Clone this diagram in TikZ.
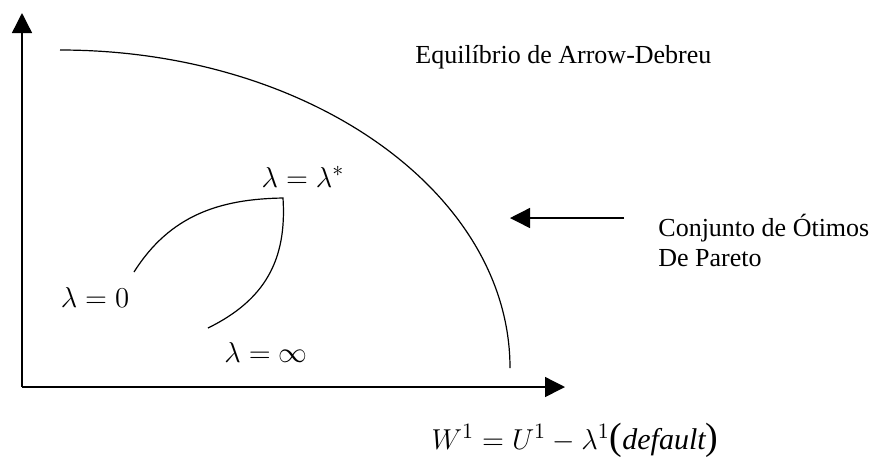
\documentclass[tikz,border=0pt]{standalone}
\usepackage{fontspec}
\setmainfont{Liberation Serif}
\usetikzlibrary{arrows.meta}
\usetikzlibrary{positioning}

\newcommand{\bigpar}[1]{\mbox{\fontsize{19}{19}\selectfont #1}}

\begin{document}
\begin{tikzpicture}[x=0.5pt,y=-0.5pt,
        axis/.style={line width=0.7pt,-{Triangle[length=10pt,width=10pt]}},
        curve/.style={line width=0.6pt},
        lbl/.style={inner sep=0pt,font=\fontsize{13}{15}\selectfont},
        mlbl/.style={inner sep=0pt,font=\fontsize{15}{18}\selectfont}]
    \useasboundingbox (0,0) rectangle (871,457);

    \coordinate (O) at (22,387);
    \coordinate (Ytop) at (22,13);
    \coordinate (Xend) at (565,387);

    \draw[axis] (O)--(Ytop);
    \draw[axis] (O)--(Xend);

    % fronteira de Pareto
    \coordinate (ParTop) at (60,50);
    \draw[curve] (ParTop) arc[start angle=90,end angle=0,x radius=225pt,y radius=159pt] coordinate (ParEnd);

    \coordinate (Lzero) at (134,272);
    \coordinate (Lstar) at (283,198);
    \coordinate (Linf) at (208,328);
    \draw[curve] (Lzero) .. controls (170,215) and (220,199) .. (Lstar)
        .. controls (287,260) and (265,300) .. (Linf);

    \node[mlbl] (lamstar) at (303,177) {$\lambda=\lambda^{*}$};
    \node[mlbl] (lamzero) at (95,297) {$\lambda=0$};
    \node[mlbl] (laminf) at (266,352) {$\lambda=\infty$};
    \node[mlbl] (welfare) at (575,440) {$W^{1}=U^{1}-\lambda^{1}\bigpar{(}\mathit{default}\bigpar{)}$};

    \node[lbl,anchor=west] (equil) at (415,57) {Equilíbrio de Arrow-Debreu};
    \node[lbl,anchor=west,align=left] (pareto) at (658,240) {Conjunto de Ótimos\\De Pareto};

    \coordinate (ArrTail) at (624,218);
    \coordinate (ArrTip) at (510,218);
    \draw[axis] (ArrTail)--(ArrTip);
\end{tikzpicture}
\end{document}
